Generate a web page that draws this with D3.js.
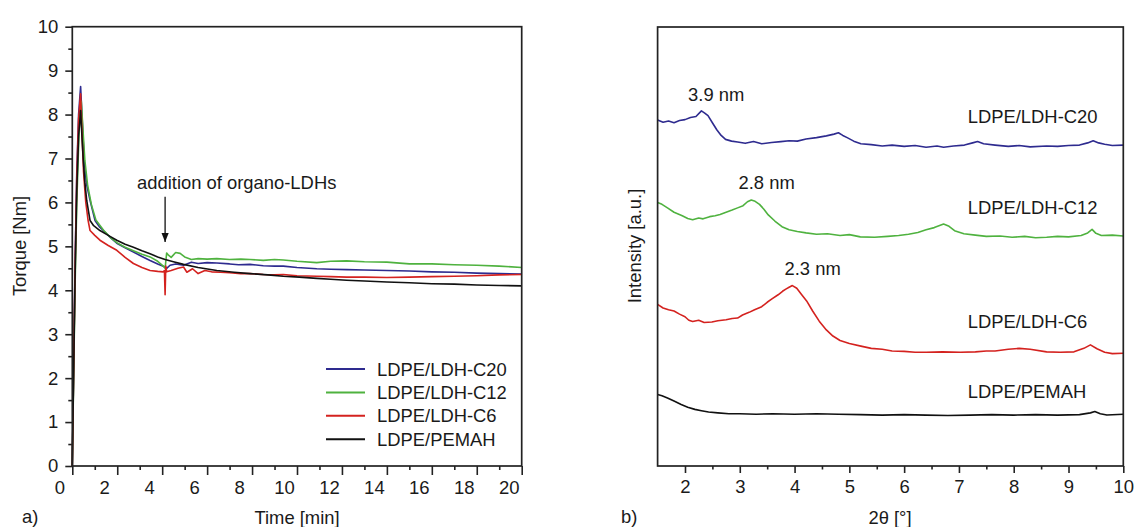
<!DOCTYPE html>
<html>
<head>
<meta charset="utf-8">
<script src="https://cdn.jsdelivr.net/npm/d3@7"></script>
<style>
    body { margin: 0; background: #fff; }
    svg { display: block; font-family: "Liberation Sans", Arial, sans-serif; }
    .frame { fill: none; stroke: #222; stroke-width: 1.7px; }
    .axis path { display: none; }
    .axis line { stroke: #222; stroke-width: 1.6px; }
    .axis text { font-size: 18.5px; fill: #1a1a1a; font-family: "Liberation Sans", Arial, sans-serif; }
    .curve { fill: none; stroke-width: 1.6px; stroke-linejoin: round; }
    .lbl { font-size: 18.4px; fill: #1a1a1a; }
</style>
</head>
<body>
<svg id="chart" width="1136" height="527"></svg>
<script>
// ---- a) torque data [time min, torque Nm] ----
var torqueC20 = [[0,0],[0.05,1.9],[0.12,4.5],[0.2,6.7],[0.28,8.0],[0.37,8.64],[0.44,7.9],[0.53,6.95],[0.64,6.4],[0.79,6.05],[1.01,5.59],[1.2,5.45],[1.38,5.36],[1.7,5.2],[1.98,5.07],[2.35,4.97],[2.72,4.87],[3.1,4.77],[3.46,4.68],[3.8,4.6],[4.13,4.53],[4.2,4.5],[4.35,4.57],[4.6,4.6],[4.95,4.57],[5.3,4.64],[5.6,4.61],[6.0,4.63],[6.43,4.62],[7.0,4.6],[7.4,4.58],[7.91,4.59],[8.5,4.56],[9.0,4.55],[9.39,4.55],[10.0,4.52],[10.88,4.49],[11.5,4.48],[12.21,4.47],[13,4.46],[14,4.45],[15,4.44],[16,4.42],[17,4.41],[18,4.39],[19,4.38],[20,4.37]]
var torqueC12 = [[0,0],[0.05,1.7],[0.12,4.0],[0.2,6.0],[0.3,7.6],[0.4,8.3],[0.47,7.7],[0.56,6.95],[0.68,6.4],[0.85,5.95],[1.05,5.6],[1.4,5.36],[1.7,5.2],[2.0,5.08],[2.35,4.98],[2.72,4.9],[3.1,4.82],[3.46,4.76],[3.8,4.66],[4.05,4.55],[4.13,4.5],[4.2,4.85],[4.28,4.8],[4.4,4.75],[4.6,4.86],[4.8,4.84],[5.0,4.76],[5.3,4.7],[5.6,4.72],[6.0,4.71],[6.43,4.72],[7.0,4.7],[7.5,4.71],[7.91,4.7],[8.5,4.68],[9.0,4.7],[9.39,4.69],[10,4.66],[10.88,4.63],[11.5,4.66],[12.21,4.67],[13,4.65],[14,4.64],[15,4.6],[16,4.6],[17,4.58],[18,4.57],[19,4.55],[20,4.52]]
var torqueC6 = [[0,0],[0.05,1.9],[0.12,4.4],[0.2,6.6],[0.28,7.9],[0.37,8.47],[0.43,7.6],[0.5,6.7],[0.6,6.0],[0.7,5.6],[0.79,5.36],[1.0,5.25],[1.23,5.14],[1.6,5.02],[1.98,4.91],[2.35,4.75],[2.72,4.61],[3.1,4.52],[3.46,4.45],[3.8,4.43],[4.05,4.42],[4.1,4.45],[4.13,3.9],[4.16,4.55],[4.2,4.42],[4.4,4.45],[4.7,4.5],[4.95,4.53],[5.1,4.41],[5.35,4.49],[5.6,4.38],[5.9,4.45],[6.2,4.42],[6.6,4.41],[7.0,4.4],[7.5,4.38],[7.91,4.38],[8.5,4.36],[9.0,4.35],[9.39,4.36],[10,4.33],[10.88,4.32],[11.5,4.31],[12.21,4.3],[13,4.3],[14,4.29],[15,4.3],[16,4.31],[17,4.32],[18,4.33],[19,4.35],[20,4.36]]
var torquePEMAH = [[0,0],[0.05,1.8],[0.12,4.2],[0.2,6.3],[0.28,7.5],[0.37,8.09],[0.44,7.4],[0.49,6.95],[0.56,6.45],[0.64,6.05],[0.72,5.8],[0.79,5.59],[0.95,5.47],[1.23,5.36],[1.6,5.25],[1.98,5.14],[2.35,5.05],[2.72,4.98],[3.1,4.9],[3.46,4.83],[3.8,4.76],[4.13,4.7],[4.5,4.65],[4.95,4.59],[5.6,4.52],[6.43,4.45],[7.2,4.41],[7.91,4.38],[8.7,4.35],[9.39,4.32],[10.1,4.3],[10.88,4.27],[11.5,4.25],[12.21,4.23],[13,4.21],[14,4.19],[15,4.17],[16,4.15],[17,4.14],[18,4.12],[19,4.11],[20,4.1]]

// ---- b) XRD data [2theta deg, intensity a.u.] ----
var xrdC20 = [[1.5,78.8],[1.6,78.3],[1.7,78.6],[1.8,78.2],[1.9,78.7],[2.0,78.9],[2.1,79.4],[2.2,79.6],[2.3,80.9],[2.36,80.4],[2.42,79.8],[2.5,78.2],[2.58,76.6],[2.66,75.3],[2.74,74.4],[2.85,74.0],[2.96,73.8],[3.1,73.5],[3.25,73.9],[3.4,73.4],[3.58,73.7],[3.75,73.9],[3.9,74.1],[4.05,74.0],[4.21,74.5],[4.4,74.8],[4.58,75.2],[4.72,75.6],[4.8,75.9],[4.88,75.3],[4.96,74.8],[5.08,74.0],[5.21,73.4],[5.4,73.2],[5.6,72.9],[5.78,73.1],[6.0,72.8],[6.2,73.0],[6.4,72.6],[6.6,72.9],[6.72,72.6],[6.9,72.9],[7.1,73.1],[7.25,73.6],[7.34,73.9],[7.45,73.4],[7.66,73.1],[7.9,72.8],[8.1,73.0],[8.3,72.7],[8.6,72.9],[8.8,72.8],[9.0,73.0],[9.2,73.1],[9.35,73.6],[9.45,74.1],[9.55,73.6],[9.66,73.3],[9.8,73.0],[10,73.1]]
var xrdC12 = [[1.5,60.0],[1.58,59.6],[1.68,58.8],[1.8,57.8],[1.95,57.0],[2.05,56.4],[2.14,56.1],[2.25,56.5],[2.33,56.3],[2.45,56.8],[2.55,57.0],[2.64,57.3],[2.75,57.8],[2.86,58.3],[2.96,58.8],[3.06,59.3],[3.14,60.2],[3.21,60.6],[3.28,60.3],[3.36,59.6],[3.44,58.5],[3.52,57.2],[3.64,55.8],[3.77,54.5],[3.9,53.8],[4.05,53.4],[4.21,53.1],[4.4,52.8],[4.6,52.9],[4.83,52.5],[5.0,52.7],[5.2,52.2],[5.46,52.1],[5.7,52.3],[5.9,52.5],[6.08,52.8],[6.25,53.2],[6.4,53.8],[6.55,54.3],[6.72,55.1],[6.82,54.6],[6.92,53.6],[7.09,52.9],[7.3,52.6],[7.5,52.3],[7.75,52.4],[7.97,52.1],[8.2,52.3],[8.4,52.0],[8.6,52.1],[8.8,52.3],[9.0,52.2],[9.23,52.5],[9.35,53.1],[9.43,53.9],[9.5,53.0],[9.6,52.5],[9.8,52.6],[10,52.4]]
var xrdC6 = [[1.5,36.8],[1.6,36.0],[1.7,35.6],[1.8,35.3],[1.9,34.6],[2.0,34.0],[2.07,33.2],[2.14,32.9],[2.25,33.2],[2.35,32.7],[2.49,32.8],[2.6,33.1],[2.75,33.3],[2.86,33.6],[2.96,33.7],[3.05,34.4],[3.17,35.0],[3.27,35.6],[3.4,36.3],[3.5,37.3],[3.58,38.0],[3.7,39.0],[3.78,39.8],[3.84,40.3],[3.9,40.7],[3.96,41.1],[4.04,40.5],[4.12,39.2],[4.22,37.6],[4.33,35.3],[4.45,33.0],[4.58,31.0],[4.7,29.6],[4.83,28.6],[5.0,27.9],[5.21,27.3],[5.4,26.8],[5.6,26.6],[5.78,26.2],[6.0,26.1],[6.2,25.9],[6.4,25.9],[6.7,26.0],[7.03,25.9],[7.3,26.0],[7.5,26.2],[7.66,26.2],[7.9,26.6],[8.1,26.8],[8.3,26.6],[8.6,26.0],[8.85,25.9],[9.1,26.0],[9.28,26.8],[9.4,27.6],[9.52,26.7],[9.66,25.9],[9.8,25.6],[10,25.7]]
var xrdPEMAH = [[1.5,16.3],[1.58,16.0],[1.68,15.5],[1.8,14.8],[1.93,14.0],[2.05,13.4],[2.18,12.9],[2.3,12.6],[2.43,12.3],[2.6,12.1],[2.8,11.9],[3.0,11.9],[3.3,11.8],[3.6,11.9],[4.0,11.8],[4.4,11.9],[4.8,11.8],[5.2,11.7],[5.6,11.6],[6.0,11.7],[6.4,11.6],[6.8,11.5],[7.2,11.6],[7.6,11.7],[8.0,11.6],[8.4,11.7],[8.8,11.6],[9.2,11.7],[9.4,12.1],[9.48,12.4],[9.58,11.9],[9.7,11.6],[10,11.8]]

var seriesNames = ["LDPE/LDH-C20", "LDPE/LDH-C12", "LDPE/LDH-C6", "LDPE/PEMAH"]
var seriesColors = ["#2e2b8f", "#4fb23f", "#d4221f", "#111111"]
var peakLabels = ["3.9 nm", "2.8 nm", "2.3 nm"]
var peakLabelPos = [[2.57, 84.6], [3.49, 64.6], [4.33, 45.1]]   // 2theta / a.u. of each label

var svg = d3.select("#chart")

// ================= panel a) =================
var xA = d3.scaleLinear().domain([0, 20]).range([72.3, 521.7]),
    yA = d3.scaleLinear().domain([0, 10]).range([466, 26.7])

var gA = svg.append("g")

// minor + major ticks, y
gA.append("g").attr("class", "axis").attr("transform", "translate(" + xA(0) + ",0)")
    .call(d3.axisLeft(yA).tickValues(d3.range(0.5, 10, 1)).tickSize(4).tickFormat(""))
gA.append("g").attr("class", "axis").attr("transform", "translate(" + xA(0) + ",0)")
    .call(d3.axisLeft(yA).tickValues(d3.range(0, 11, 1)).tickSize(7).tickPadding(7))

// minor + major ticks, x (labels sit a bit left of their ticks in the original)
gA.append("g").attr("class", "axis").attr("transform", "translate(0," + yA(0) + ")")
    .call(d3.axisBottom(xA).tickValues(d3.range(1, 20, 2)).tickSize(4).tickFormat(""))
gA.append("g").attr("class", "axis").attr("transform", "translate(0," + yA(0) + ")")
    .call(d3.axisBottom(xA).tickValues(d3.range(0, 21, 2)).tickSize(9).tickPadding(6))
    .selectAll("text").attr("dx", -13)

var lineA = d3.line()
    .x(function(d) { return xA(d[0]) })
    .y(function(d) { return yA(d[1]) })

var torqueData = [torqueC20, torqueC12, torqueC6, torquePEMAH]
gA.selectAll(".curveA")
    .data(torqueData)
    .enter().append("path")
    .attr("class", "curve")
    .attr("stroke", function(d, i) { return seriesColors[i] })
    .attr("d", lineA)

gA.append("rect").attr("class", "frame")
    .attr("x", xA(0)).attr("y", yA(10))
    .attr("width", xA(20) - xA(0)).attr("height", yA(0) - yA(10))

// arrow for the filler addition
var addT = 4.13
svg.append("defs").append("marker")
    .attr("id", "arr").attr("viewBox", "0 0 10 10").attr("refX", 10).attr("refY", 5)
    .attr("markerWidth", 7).attr("markerHeight", 7).attr("orient", "auto")
    .append("path").attr("d", "M0,1 L10,5 L0,9 Z").attr("fill", "#111")
gA.append("line")
    .attr("x1", xA(addT)).attr("x2", xA(addT))
    .attr("y1", yA(6.13)).attr("y2", yA(5.1))
    .attr("stroke", "#111").attr("stroke-width", 1.3)
    .attr("marker-end", "url(#arr)")
gA.append("text").attr("class", "lbl")
    .attr("x", 137).attr("y", yA(6.45)).attr("dominant-baseline", "central")
    .text("addition of organo-LDHs")

// legend
var key = gA.append("g").attr("transform", "translate(326,369)")
seriesNames.forEach(function(name, i) {
    key.append("line").attr("x1", 0).attr("x2", 39).attr("y1", i * 23.4).attr("y2", i * 23.4)
        .attr("stroke", seriesColors[i]).attr("stroke-width", 2)
    key.append("text").attr("class", "lbl").attr("x", 51).attr("y", i * 23.4)
        .attr("dominant-baseline", "central").text(name)
})

// axis titles
gA.append("text").attr("class", "lbl").attr("text-anchor", "middle")
    .attr("transform", "translate(19,246) rotate(-90)").attr("dominant-baseline", "central")
    .text("Torque [Nm]")
gA.append("text").attr("class", "lbl").attr("text-anchor", "middle")
    .attr("x", 297).attr("y", 517).attr("dominant-baseline", "central").text("Time [min]")
gA.append("text").attr("class", "lbl").attr("x", 22).attr("y", 516)
    .attr("dominant-baseline", "central").text("a)")

// ================= panel b) =================
var xB = d3.scaleLinear().domain([1.5, 10]).range([657.6, 1123.3]),
    yB = d3.scaleLinear().domain([0, 100]).range([466, 27])

var gB = svg.append("g")

gB.append("g").attr("class", "axis").attr("transform", "translate(0," + yB(0) + ")")
    .call(d3.axisBottom(xB).tickValues(d3.range(2.5, 10, 1)).tickSize(3.5).tickFormat(""))
gB.append("g").attr("class", "axis").attr("transform", "translate(0," + yB(0) + ")")
    .call(d3.axisBottom(xB).tickValues(d3.range(2, 11, 1)).tickSize(7).tickPadding(7))

var lineB = d3.line()
    .x(function(d) { return xB(d[0]) })
    .y(function(d) { return yB(d[1]) })

var xrdData = [xrdC20, xrdC12, xrdC6, xrdPEMAH]
gB.selectAll(".curveB")
    .data(xrdData)
    .enter().append("path")
    .attr("class", "curve")
    .attr("stroke", function(d, i) { return seriesColors[i] })
    .attr("d", lineB)

gB.append("rect").attr("class", "frame")
    .attr("x", xB(1.5)).attr("y", yB(100))
    .attr("width", xB(10) - xB(1.5)).attr("height", yB(0) - yB(100))

// curve names on the right
var nameY = [79.5, 58.9, 32.9, 16.9]
seriesNames.forEach(function(name, i) {
    gB.append("text").attr("class", "lbl").attr("x", 967.7).attr("y", yB(nameY[i]))
        .attr("dominant-baseline", "central").text(name)
})

// d-spacing labels above peaks
peakLabels.forEach(function(t, i) {
    gB.append("text").attr("class", "lbl").attr("text-anchor", "middle")
        .attr("x", xB(peakLabelPos[i][0])).attr("y", yB(peakLabelPos[i][1]))
        .attr("dominant-baseline", "central").text(t)
})

gB.append("text").attr("class", "lbl").attr("text-anchor", "middle")
    .attr("transform", "translate(634,246) rotate(-90)").attr("dominant-baseline", "central")
    .text("Intensity [a.u.]")
gB.append("text").attr("class", "lbl").attr("text-anchor", "middle")
    .attr("x", 890).attr("y", 517).attr("dominant-baseline", "central").text("2θ [°]")
gB.append("text").attr("class", "lbl").attr("x", 621).attr("y", 516)
    .attr("dominant-baseline", "central").text("b)")
</script>
</body>
</html>
